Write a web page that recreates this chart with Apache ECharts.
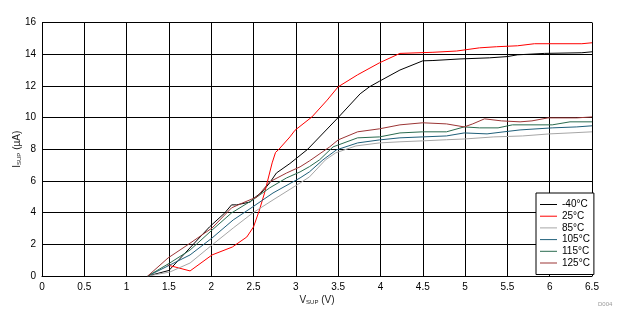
<!DOCTYPE html>
<html><head><meta charset="utf-8">
<script src="https://cdn.jsdelivr.net/npm/echarts@6/dist/echarts.min.js"></script>
<style>html,body{margin:0;padding:0;background:#fff}#c{width:625px;height:328px}</style>
</head><body><div id="c"></div>
<script>
const seriesNames = ['-40°C', '25°C', '85°C', '105°C', '115°C', '125°C'];
const seriesColors = ['#000000', '#ff0000', '#a6a6a6', '#1f5f7a', '#2a6b4f', '#9b3535'];
const xTicks = { min: 0, max: 6.5, interval: 0.5 };
const yTicks = { min: 0, max: 16, interval: 2 };

const vM40 = [1.25, 1.5, 1.98, 2.16, 2.24, 2.30, 2.46, 2.51, 2.60, 2.69, 2.77, 2.93, 3.14, 3.5, 3.76, 3.87, 3.99, 4.23, 4.5, 4.62, 4.94, 5.29, 5.5, 5.62, 5.94, 6.38, 6.5];
const iM40 = [0, 0.35, 3.1, 3.98, 4.49, 4.49, 4.67, 4.93, 5.3, 5.87, 6.5, 7.1, 8.0, 10.0, 11.5, 11.94, 12.3, 13.0, 13.58, 13.6, 13.7, 13.77, 13.85, 13.96, 14.05, 14.09, 14.15];

const v25 = [1.48, 1.75, 2.01, 2.25, 2.42, 2.50, 2.57, 2.63, 2.72, 2.76, 2.80, 2.93, 2.99, 3.19, 3.37, 3.50, 3.73, 3.99, 4.23, 4.62, 4.9, 5.17, 5.37, 5.62, 5.82, 6.38, 6.5];
const i25 = [0.7, 0.32, 1.33, 1.83, 2.46, 3.1, 4.17, 5.24, 7.14, 7.8, 8.0, 8.78, 9.2, 10.04, 11.1, 11.94, 12.7, 13.46, 14.05, 14.12, 14.2, 14.4, 14.47, 14.53, 14.66, 14.66, 14.72];

const v85 = [1.25, 1.51, 1.75, 2.01, 2.26, 2.49, 2.73, 3.05, 3.16, 3.35, 3.47, 3.71, 3.99, 4.23, 4.5, 4.78, 5.0, 5.34, 5.68, 6.0, 6.24, 6.5];
const i85 = [0, 0.25, 0.82, 1.96, 3.03, 3.98, 4.8, 5.87, 6.25, 7.33, 7.77, 8.21, 8.4, 8.47, 8.53, 8.6, 8.65, 8.78, 8.84, 8.97, 9.03, 9.1];

const v105 = [1.25, 1.51, 1.75, 2.01, 2.26, 2.49, 2.73, 3.05, 3.16, 3.32, 3.48, 3.73, 3.99, 4.23, 4.5, 4.78, 4.99, 5.26, 5.46, 5.65, 6.03, 6.32, 6.5];
const i105 = [0, 0.69, 1.33, 2.4, 3.54, 4.36, 5.24, 6.19, 6.57, 7.33, 7.96, 8.4, 8.59, 8.72, 8.78, 8.84, 9.03, 8.97, 9.1, 9.22, 9.35, 9.41, 9.48];

const v115 = [1.25, 1.51, 1.75, 2.01, 2.24, 2.49, 2.69, 2.89, 3.05, 3.16, 3.28, 3.44, 3.73, 3.99, 4.23, 4.5, 4.78, 4.99, 5.17, 5.39, 5.56, 6.03, 6.24, 6.5];
const i115 = [0, 0.82, 1.64, 2.9, 3.98, 4.8, 5.56, 6.19, 6.57, 6.9, 7.33, 8.15, 8.72, 8.78, 9.03, 9.1, 9.1, 9.41, 9.35, 9.35, 9.54, 9.54, 9.73, 9.73];

const v125 = [1.25, 1.49, 1.72, 2.01, 2.24, 2.37, 2.54, 2.69, 2.89, 3.05, 3.16, 3.4, 3.5, 3.73, 3.99, 4.23, 4.5, 4.78, 4.99, 5.09, 5.23, 5.43, 5.65, 5.79, 5.98, 6.32, 6.5];
const i125 = [0, 1.14, 1.96, 3.03, 4.3, 4.61, 4.99, 5.94, 6.5, 6.89, 7.26, 8.15, 8.59, 9.1, 9.29, 9.54, 9.67, 9.6, 9.41, 9.6, 9.92, 9.79, 9.73, 9.79, 9.98, 9.98, 10.04];

const xs = [vM40, v25, v85, v105, v115, v125];
const ys = [iM40, i25, i85, i105, i115, i125];

const font = 'Liberation Sans, Arial, sans-serif';
const chart = echarts.init(document.getElementById('c'), null, { renderer: 'canvas' });
chart.setOption({
  animation: false,
  backgroundColor: '#fff',
  grid: { left: 42, right: 33, top: 22.5, bottom: 52, containLabel: false, outerBoundsMode: 'none', show: false },
  xAxis: {
    type: 'value', min: xTicks.min, max: xTicks.max, interval: xTicks.interval,
    axisLine: { lineStyle: { color: '#000', width: 1 } },
    axisTick: { show: false },
    splitLine: { show: true, lineStyle: { color: '#000', width: 1 } },
    axisLabel: { color: '#000', fontSize: 10, fontFamily: font, margin: 6 },
    name: 'V{sub|SUP} (V)', nameLocation: 'middle', nameGap: 19, nameMoveOverlap: false,
    nameTextStyle: { color: '#222', fontSize: 10, fontFamily: font,
      rich: { sub: { fontSize: 6, fontFamily: font, color: '#222', padding: [4, 0, 0, 0] } } }
  },
  yAxis: {
    type: 'value', min: yTicks.min, max: yTicks.max, interval: yTicks.interval,
    axisLine: { show: true, lineStyle: { color: '#000', width: 1 } },
    axisTick: { show: false },
    splitLine: { show: true, lineStyle: { color: '#000', width: 1 } },
    axisLabel: { color: '#000', fontSize: 10, fontFamily: font, margin: 6 },
    name: 'I{sub|SUP} (µA)', nameLocation: 'middle', nameGap: 20, nameRotate: 90, nameMoveOverlap: false,
    nameTextStyle: { color: '#222', fontSize: 10, fontFamily: font,
      rich: { sub: { fontSize: 6, fontFamily: font, color: '#222', padding: [4, 0, 0, 0] } } }
  },
  legend: {
    orient: 'vertical', left: 536, top: 193,
    backgroundColor: '#fff', borderColor: '#000', borderWidth: 1, borderRadius: 0,
    padding: [6, 4, 6, 4], itemGap: 0.7, itemWidth: 17, itemHeight: 1,
    icon: 'rect',
    textStyle: { color: '#000', fontSize: 10, fontFamily: font, lineHeight: 11 },
    data: seriesNames
  },
  graphic: [{ type: 'text', left: 598, top: 301,
    style: { text: 'D004', fill: '#999', fontSize: 6, fontFamily: font } }],
  series: seriesNames.map((n, k) => ({
    name: n, type: 'line', showSymbol: false, symbol: 'none',
    color: seriesColors[k],
    lineStyle: { color: seriesColors[k], width: 1 },
    data: xs[k].map((x, j) => [x, ys[k][j]])
  }))
});
</script></body></html>
